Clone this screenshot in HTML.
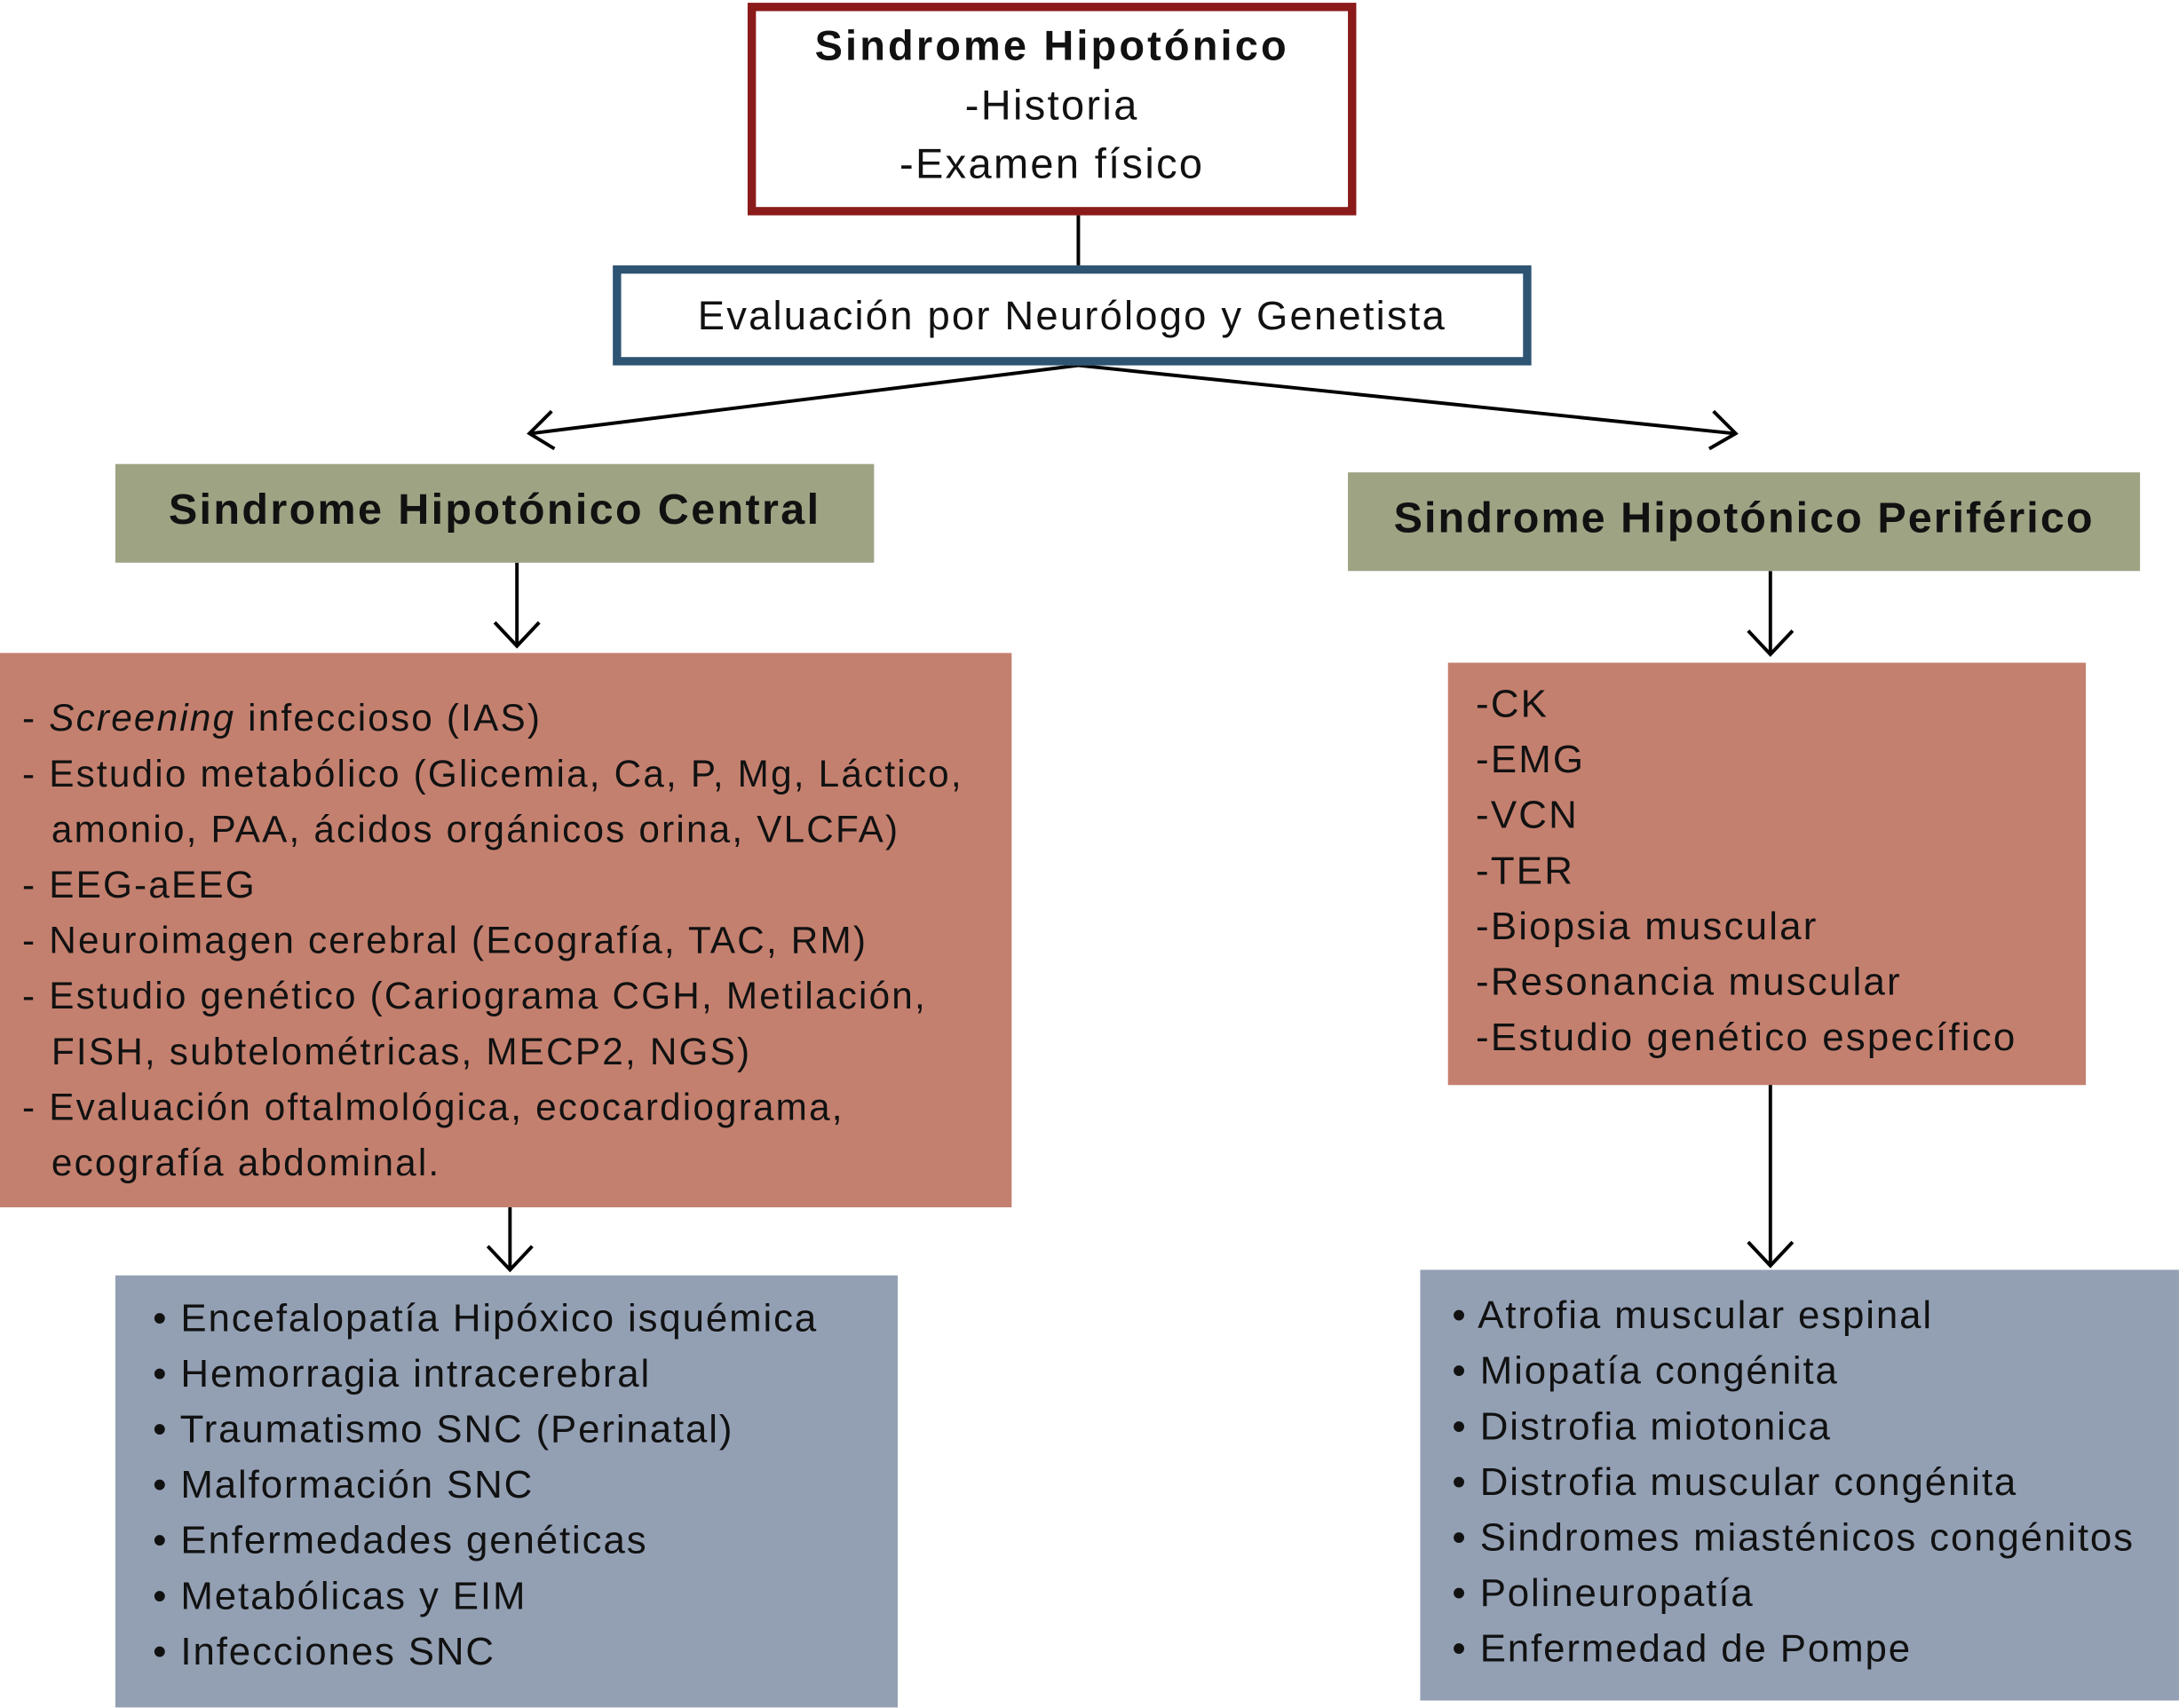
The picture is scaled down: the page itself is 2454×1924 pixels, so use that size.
<!DOCTYPE html>
<html><head><meta charset="utf-8">
<style>
html,body{margin:0;padding:0;background:#fff;}
body{width:2454px;height:1924px;overflow:hidden;}
#c{position:absolute;left:0;top:0;width:1568px;height:1229px;transform:scale(1.565);transform-origin:0 0;font-family:"Liberation Sans",sans-serif;color:#111;}
.b{position:absolute;box-sizing:border-box;}
.t{position:absolute;white-space:nowrap;font-size:28px;line-height:40px;letter-spacing:1.3px;}
.ind{display:inline-block;width:21px;}
</style></head><body>
<div id="c">
<svg width="1568" height="1229" style="position:absolute;left:0;top:0">
 <g stroke="#000" stroke-width="2.5" fill="none">
  <line x1="776" y1="154" x2="776" y2="192"/>
  <line x1="776" y1="263" x2="382" y2="312"/>
  <polyline points="397,296 381,312 399,323"/>
  <line x1="776" y1="263" x2="1248" y2="312"/>
  <polyline points="1233,296 1249,312 1230,323"/>
  <line x1="372" y1="405" x2="372" y2="465"/>
  <polyline points="356,448 372,465 388,448"/>
  <line x1="367" y1="868" x2="367" y2="914"/>
  <polyline points="351,897 367,914 383,897"/>
  <line x1="1274" y1="411" x2="1274" y2="471"/>
  <polyline points="1258,454 1274,471 1290,454"/>
  <line x1="1274" y1="780" x2="1274" y2="911"/>
  <polyline points="1258,894 1274,911 1290,894"/>
 </g>
</svg>
<div class="b" style="left:538px;top:2px;width:438px;height:153px;border:6px solid #8b1a1a;background:#fff;"></div>
<div class="t" style="left:538px;width:438px;text-align:center;top:14px;font-weight:bold;font-size:30px;letter-spacing:2px;">Sindrome Hipotónico</div>
<div class="t" style="left:538px;width:438px;text-align:center;top:57px;font-size:30px;letter-spacing:1.5px;">-Historia</div>
<div class="t" style="left:538px;width:438px;text-align:center;top:99px;font-size:30px;letter-spacing:1.5px;">-Examen físico</div>

<div class="b" style="left:441px;top:191px;width:661px;height:72px;border:6px solid #2e5473;background:#fff;"></div>
<div class="t" style="left:441px;width:661px;text-align:center;top:208px;font-size:29px;letter-spacing:1.4px;">Evaluación por Neurólogo y Genetista</div>

<div class="b" style="left:83px;top:334px;width:546px;height:71px;background:#9ea384;"></div>
<div class="t" style="left:83px;width:546px;text-align:center;top:347px;font-weight:bold;font-size:31px;letter-spacing:1.5px;">Sindrome Hipotónico Central</div>
<div class="b" style="left:970px;top:340px;width:570px;height:71px;background:#9ea384;"></div>
<div class="t" style="left:970px;width:570px;text-align:center;top:353px;font-weight:bold;font-size:31px;letter-spacing:1.3px;">Sindrome Hipotónico Periférico</div>

<div class="b" style="left:0;top:470px;width:728px;height:399px;background:#c4806f;"></div>
<div class="t" style="left:16px;top:497px;font-size:27px;letter-spacing:1.4px;">- <i>Screening</i> infeccioso (IAS)<br>- Estudio metabólico (Glicemia, Ca, P, Mg, Láctico,<br><span class="ind"></span>amonio, PAA, ácidos orgánicos orina, VLCFA)<br>- EEG-aEEG<br>- Neuroimagen cerebral (Ecografía, TAC, RM)<br>- Estudio genético (Cariograma CGH, Metilación,<br><span class="ind"></span>FISH, subtelométricas, MECP2, NGS)<br>- Evaluación oftalmológica, ecocardiograma,<br><span class="ind"></span>ecografía abdominal.</div>

<div class="b" style="left:1042px;top:477px;width:459px;height:304px;background:#c4806f;"></div>
<div class="t" style="left:1062px;top:487px;font-size:28px;letter-spacing:1.4px;">-CK<br>-EMG<br>-VCN<br>-TER<br>-Biopsia muscular<br>-Resonancia muscular<br>-Estudio genético específico</div>

<div class="b" style="left:83px;top:918px;width:563px;height:311px;background:#93a0b4;"></div>
<div class="t" style="left:110px;top:929px;font-size:28px;letter-spacing:1.2px;">• Encefalopatía Hipóxico isquémica<br>• Hemorragia intracerebral<br>• Traumatismo SNC (Perinatal)<br>• Malformación SNC<br>• Enfermedades genéticas<br>• Metabólicas y EIM<br>• Infecciones SNC</div>

<div class="b" style="left:1022px;top:914px;width:546px;height:310px;background:#93a0b4;"></div>
<div class="t" style="left:1045px;top:927px;font-size:28px;letter-spacing:1.2px;">• Atrofia muscular espinal<br>• Miopatía congénita<br>• Distrofia miotonica<br>• Distrofia muscular congénita<br>• Sindromes miasténicos congénitos<br>• Polineuropatía<br>• Enfermedad de Pompe</div>
</div>
</body></html>
